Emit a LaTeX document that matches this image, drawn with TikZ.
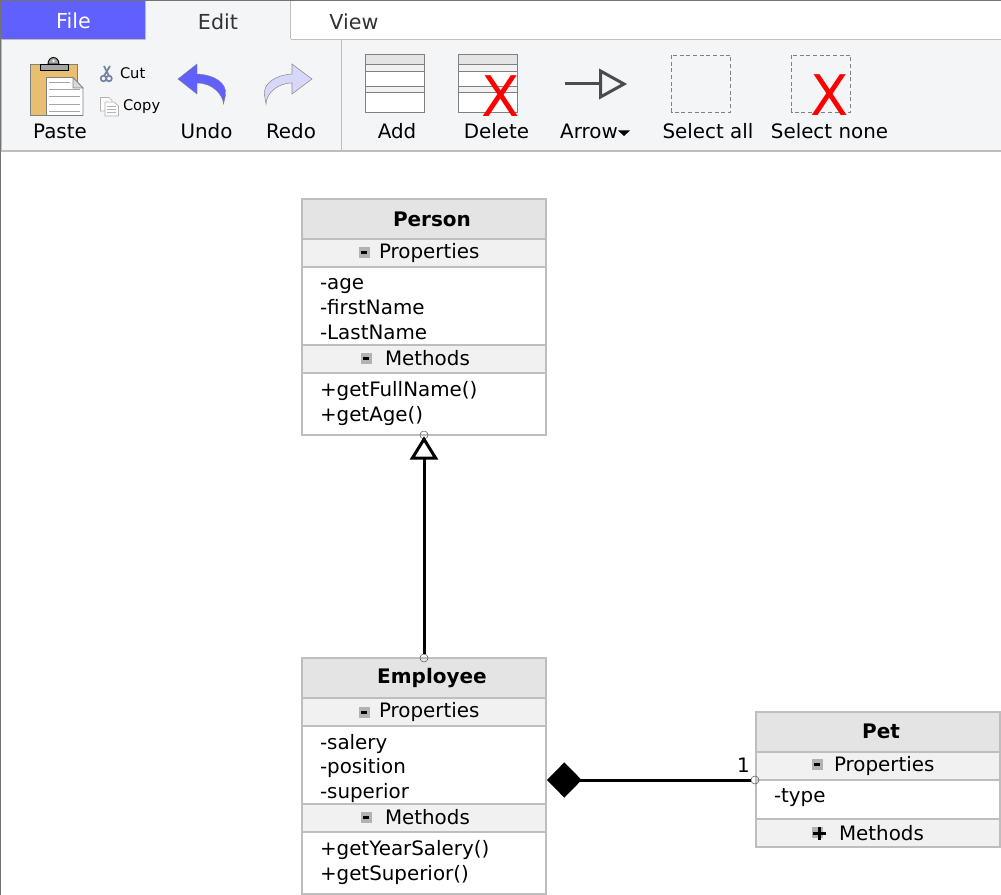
\documentclass[tikz,border=0pt]{standalone}
\usepackage{fontspec}
\setmainfont{DejaVu Sans}
\usetikzlibrary{arrows.meta}
\definecolor{ribbon}{HTML}{F4F5F7}
\definecolor{filetab}{HTML}{6060FF}
\definecolor{edge}{HTML}{BEBEBE}
\definecolor{head}{HTML}{E4E4E4}
\definecolor{comp}{HTML}{F1F1F1}
\definecolor{redofill}{HTML}{D6D7F9}
\definecolor{iconline}{HTML}{808080}
\definecolor{clipfill}{HTML}{E8BF70}
\definecolor{tabtext}{HTML}{333333}
\definecolor{scissor}{HTML}{7484A0}
\newcommand{\umlminus}[2]{\fill[black!30] (#1,#2) rectangle ++(11,11); \fill[black] (#1+2.5,#2+4) rectangle ++(6,3);}
\newcommand{\umlplus}[2]{\fill[black!30] (#1,#2) rectangle ++(11,11); \fill[black] (#1+1,#2+5) rectangle ++(13,2.6); \fill[black] (#1+6.2,#2-0.5) rectangle ++(2.6,13);}
\tikzset{
  x=.75pt,y=-.75pt,
  txt/.style={inner sep=0,outer sep=0,anchor=base west,font=\fontsize{14.9}{18}\selectfont},
  tool/.style={inner sep=0,outer sep=0,anchor=base,font=\fontsize{14.9}{18}\selectfont},
  small/.style={inner sep=0,outer sep=0,anchor=base west,font=\fontsize{11}{13}\selectfont},
  tab/.style={inner sep=0,outer sep=0,anchor=base,font=\fontsize{15.5}{18}\selectfont},
  title/.style={inner sep=0,outer sep=0,anchor=base,font=\bfseries\fontsize{15}{18}\selectfont},
  part/.style={draw=edge,line width=.85pt,anchor=north west,minimum width=183pt,inner sep=0,outer sep=0},
  headpart/.style={part,fill=head,minimum height=30pt},
  comppart/.style={part,fill=comp,minimum height=21pt},
  bodypart/.style={part,fill=white},
  port/.style={circle,draw=black!65,line width=.4pt,minimum size=6pt,inner sep=0,outer sep=0},
  ic/.style={draw=iconline,line width=.7pt},
  assoc/.style={draw=black,line width=2.25pt},
  redx/.style={inner sep=0,outer sep=0,text=red,font=\fontsize{42}{46}\selectfont},
}
\begin{document}
\begin{tikzpicture}
\useasboundingbox (0,0) rectangle (1001,895);
\fill[white] (0,0) rectangle (1001,895);
\draw[black!55,line width=.75pt] (0.5,895) -- (0.5,0.5) -- (1001,0.5);
% tabs
\fill[ribbon] (1,39.5) rectangle (1001,151);
\draw[edge,line width=.9pt] (1.5,151) -- (1.5,39.5) (1001,151) -- (1.5,151);
\draw[edge,line width=.9pt] (290.5,39.5) -- (1001,39.5);
\draw[edge,line width=.75pt] (341,40) -- (341,151);
\fill[filetab] (1,1) rectangle (145,39);
\draw[edge,line width=.7pt] (145,1) -- (145,39.5) -- (1,39.5);
\fill[ribbon] (146,1) rectangle (290,40);
\draw[edge,line width=.9pt] (290.5,1) -- (290.5,39.5);
\node[tab,text=white] (tabfile) at (73.5,29) {File};
\node[tab,text=tabtext] (tabedit) at (218,29.5) {Edit};
\node[tab,text=tabtext] (tabview) at (354,29.5) {View};
% paste icon
\fill[clipfill,draw=iconline,line width=.6pt] (30.5,64.5) rectangle (77,115);
\filldraw[fill=black!35,draw=black,line width=.7pt] (48,64) arc (180:360:5.5 and 6.5) -- cycle;
\fill[white] (53.5,61) circle (1.4);
\filldraw[fill=black!35,draw=black,line width=.7pt] (40.5,64) rectangle (68,70);
\filldraw[fill=white,draw=iconline,line width=.6pt] (46.5,77.5) -- (73,77.5) -- (83,88) -- (83,115.5) -- (46.5,115.5) -- cycle;
\draw[iconline,line width=.5pt,fill=black!15] (73,77.5) -- (73,88) -- (83,88) -- cycle;
\draw[black!35,line width=.6pt] (49,82) -- (70,82) (49,89) -- (80,89) (49,96.5) -- (80,96.5) (49,104) -- (80,104) (49,111.5) -- (80,111.5);
% cut icon
\draw[scissor,line width=1.3pt] (104,66) -- (109,76) (110,66) -- (104,76);
\draw[scissor,line width=1.3pt] (103.5,78.5) circle (2.8) (109,78.5) circle (2.8);
% copy icon
\filldraw[fill=white,draw=black!30,line width=.5pt] (100.5,97.5) -- (109,97.5) -- (112,100.5) -- (112,111) -- (100.5,111) -- cycle;
\filldraw[fill=white,draw=black!30,line width=.5pt] (105,102) -- (114,102) -- (118.5,106) -- (118.5,116) -- (105,116) -- cycle;
\draw[black!30,line width=.4pt] (107,106) -- (116,106) (107,109) -- (116,109) (107,112) -- (116,112);
\node[small] (cutlabel) at (120,78.5) {Cut};
\node[small] (copylabel) at (123,111) {Copy};
% undo / redo
\filldraw[fill=filetab,draw=iconline,line width=.3pt] (178,79) -- (197,64) -- (197,74) .. controls (215,75) and (227,83) .. (225.5,95) -- (223.5,104) .. controls (223,95) and (213,83) .. (197,83) -- (197,94) -- cycle;
\filldraw[fill=redofill,draw=iconline!90,line width=.4pt] (312,79) -- (292,64) -- (292,74) .. controls (276,75) and (263,83) .. (264.5,95) -- (266,104) .. controls (266,95) and (276,83) .. (292,83) -- (292,94) -- cycle;
\node[tool] (paste) at (60,138.5) {Paste};
\node[tool] (undo) at (206.5,138.5) {Undo};
\node[tool] (redo) at (291,138.5) {Redo};
% add icon
\filldraw[fill=white,ic] (365.5,54.5) rectangle (424.5,112);
\filldraw[fill=head,ic] (365.5,54.5) rectangle (424.5,64);
\filldraw[fill=comp,ic] (365.5,64) rectangle (424.5,71);
\filldraw[fill=comp,ic] (365.5,86) rectangle (424.5,92);
% delete icon
\filldraw[fill=white,ic] (458.5,54.5) rectangle (517.5,112);
\filldraw[fill=head,ic] (458.5,54.5) rectangle (517.5,64);
\filldraw[fill=comp,ic] (458.5,64) rectangle (517.5,71);
\filldraw[fill=comp,ic] (458.5,86) rectangle (517.5,92);
\node[redx] (delx) at (500.5,96.5) {X};
% arrow icon
\draw[black!70,line width=2.25pt] (565,84) -- (600,84);
\draw[black!70,line width=2.25pt,line join=miter] (600.5,71) -- (624,84) -- (600.5,97) -- cycle;
% selection icons
\draw[iconline,line width=.7pt,densely dashed] (671.5,55) rectangle (730.5,112);
\draw[iconline,line width=.7pt,densely dashed] (791.5,55) rectangle (850.5,112);
\node[redx] (nonex) at (830,95) {X};
\node[tool] (add) at (397,138.5) {Add};
\node[tool] (del) at (496.5,138.5) {Delete};
\node[tool] (arrowlabel) at (589,138.5) {Arrow};
\fill[black] (618,130.5) -- (630,130.5) -- (624,136) -- cycle;
\node[tool] (selall) at (708,138.5) {Select all};
\node[tool] (selnone) at (829.5,138.5) {Select none};
% Person
\node[headpart] (perhead) at (302,199) {};
\node[comppart] (perprop) at (302,239) {};
\node[bodypart,minimum height=58.5pt] (perattr) at (302,267) {};
\node[comppart] (permeth) at (302,345) {};
\node[bodypart,minimum height=46.5pt] (perops) at (302,373) {};
\node[title] (pertitle) at (432,227) {Person};
\umlminus{358.5}{247.5}
\node[txt] (perproplabel) at (379,259) {Properties};
\node[txt] (p1) at (320,290) {-age};
\node[txt] (p2) at (320,315) {-firstName};
\node[txt] (p3) at (320,339.5) {-LastName};
\umlminus{360.5}{353}
\node[txt] (permethlabel) at (385,366) {Methods};
\node[txt] (m1) at (320,396.5) {+getFullName()};
\node[txt] (m2) at (320,421.5) {+getAge()};
% Employee
\node[headpart] (emphead) at (302,658) {};
\node[comppart] (empprop) at (302,698) {};
\node[bodypart,minimum height=58.5pt] (empattr) at (302,726) {};
\node[comppart] (empmeth) at (302,804) {};
\node[bodypart,minimum height=46.5pt] (empops) at (302,832) {};
\node[title] (emptitle) at (432,683.5) {Employee};
\umlminus{358.5}{706.5}
\node[txt] (empproplabel) at (379,717.5) {Properties};
\node[txt] (e1) at (320,749) {-salery};
\node[txt] (e2) at (320,773.5) {-position};
\node[txt] (e3) at (320,798.5) {-superior};
\umlminus{360.5}{812}
\node[txt] (empmethlabel) at (385,824.5) {Methods};
\node[txt] (n1) at (320,855.5) {+getYearSalery()};
\node[txt] (n2) at (320,880.5) {+getSuperior()};
% Pet
\node[headpart] (pethead) at (756,712) {};
\node[comppart] (petprop) at (756,752) {};
\node[bodypart,minimum height=29.25pt] (petattr) at (756,780) {};
\node[comppart] (petmeth) at (756,819) {};
\node[title] (pettitle) at (881,738) {Pet};
\umlminus{811.5}{758.5}
\node[txt] (petproplabel) at (834,771) {Properties};
\node[txt] (t1) at (774,802) {-type};
\umlplus{812}{827}
\node[txt] (petmethlabel) at (839,840) {Methods};
% connectors
\coordinate (empport) at (546,780);
\node[port] (portsuper) at (perops.south) {};
\node[port] (portsub) at (emphead.north) {};
\node[port] (portpet) at (755,780) {};
\draw[assoc,-{Triangle[open,fill=white,length=17.5pt,width=21pt,line width=2.25pt]},shorten >=-2pt] (portsub) -- (portsuper);
\draw[assoc,{Diamond[fill=black,length=26pt,width=26.5pt,line width=0pt]}-,shorten <=.75pt] (empport) -- (portpet);
\node[tool] (mult) at (743.5,772) {1};
\end{tikzpicture}
\end{document}
